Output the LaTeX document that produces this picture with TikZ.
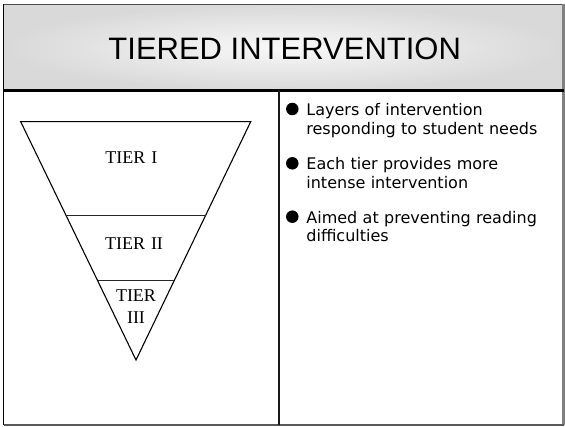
\documentclass[tikz,border=0pt]{standalone}
\usepackage{fontspec}
\setmainfont{Liberation Serif}
\newfontfamily\headfont{Liberation Sans}
\newfontfamily\listfont{DejaVu Sans}
\usetikzlibrary{calc}
\begin{document}
\begin{tikzpicture}[x=1pt,y=-1pt,
  tierline/.style={line width=1.1pt, black},
  cutline/.style={line width=0.9pt, black!85},
  tierlabel/.style={font=\fontsize{18}{21.7}\selectfont, align=center, inner sep=0, text width=60pt, anchor=base},
  dot/.style={circle, fill=black, inner sep=0, minimum size=12.5pt},
  item/.style={font=\listfont\fontsize{16}{18.5}\selectfont, anchor=base west, align=left, inner sep=0, text width=252pt},
]
\useasboundingbox (0,0) rectangle (565,427);
\fill[white] (0,0) rectangle (565,427);

% frame corners and column divider ends
\coordinate (ftl) at (3.5,4.5);
\coordinate (ftr) at (563.5,4.5);
\coordinate (fbl) at (3.5,425);
\coordinate (fbr) at (563.5,425);
\coordinate (hl) at (3.5,90.5);
\coordinate (hr) at (563.5,90.5);
\coordinate (dtop) at (278.7,90.5);
\coordinate (dbot) at (278.7,425);

% header band
\shade[inner color=gray!5, outer color=gray!30] (ftl) rectangle (hr);
\node[font=\headfont\fontsize{31}{31}\selectfont, anchor=base, inner sep=0] (title) at (284.7,60) {TIERED INTERVENTION};

% frame
\draw[line width=1.2pt, black!70] (ftl) -- (ftr);
\draw[line width=2.4pt, black!50] (ftr) -- (fbr);
\draw[line width=2pt, black!65] (fbl) -- (fbr);
\draw[line width=1.6pt, black] (ftl) -- (fbl);
\draw[line width=2.6pt, black] (hl) -- (hr);
\draw[line width=2pt, black!90] (dtop) -- (dbot);

% inverted triangle with its tiers
\coordinate (tl) at (20.7,121.7);
\coordinate (tr) at (250.7,121.7);
\coordinate (ap) at (136,360);
\draw[tierline, line join=miter] (tl) -- (tr) -- (ap) -- cycle;
\draw[cutline] ($(tl)!0.3915!(ap)$) -- ($(tr)!0.3915!(ap)$);
\draw[cutline] ($(tl)!0.6672!(ap)$) -- ($(tr)!0.6672!(ap)$);
\node[tierlabel] (t1) at (131.3,164) {TIER I};
\node[tierlabel] (t2) at (134,249.3) {TIER II};
\node[tierlabel] (t3) at (136,301.7) {TIER\\III};

% bullet list
\node[dot] (b1) at (292.3,109) {};
\node[item] (i1) at (306.2,115.7) {Layers of intervention\\responding to student needs};
\node[dot] (b2) at (292.3,163.3) {};
\node[item] (i2) at (306.2,170) {Each tier provides more\\intense intervention};
\node[dot] (b3) at (292.3,216.7) {};
\node[item] (i3) at (306.2,223.3) {Aimed at preventing reading\\difficulties};
\end{tikzpicture}
\end{document}
